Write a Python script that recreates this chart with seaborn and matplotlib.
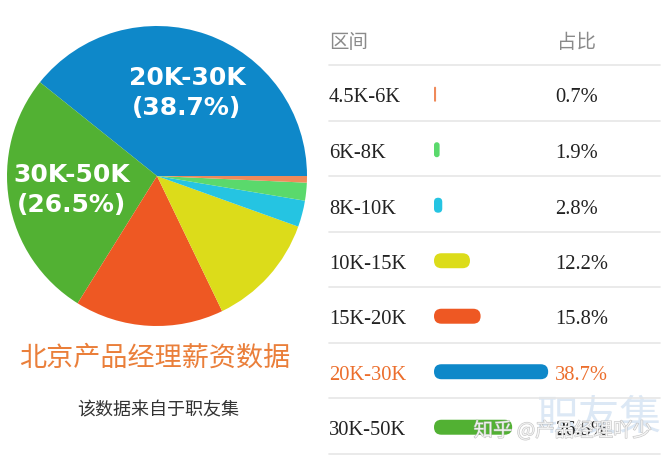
import matplotlib
matplotlib.use("Agg")
import matplotlib.pyplot as plt
import seaborn as sns
import pandas as pd
from matplotlib.patches import FancyBboxPatch
import matplotlib.patheffects as pe

# ---- data ----
ranges = ["4.5K-6K", "6K-8K", "8K-10K", "10K-15K", "15K-20K", "20K-30K", "30K-50K"]
shares = [0.7, 1.9, 2.8, 12.2, 15.8, 38.7, 26.5]
colors = ["#EF8A5A", "#5AD96C", "#25C4E2", "#DCDC1A", "#EE5823", "#0E88C9", "#52B133"]
pie_order = [5, 6, 4, 3, 2, 1, 0]  # counter-clockwise from 3 o'clock
pie_labelled = ["20K-30K", "30K-50K"]
header = ["区间", "占比"]
title = "北京产品经理薪资数据"
subtitle = "该数据来自于职友集"
highlight = "20K-30K"
watermark1 = "职友集"
watermark2 = "知乎 @产品经理吖少"

sns.set_theme(style="white")
plt.rcParams['font.family'] = ['Noto Sans CJK SC', 'DejaVu Sans']

W, H = 668, 464
fig = plt.figure(figsize=(6.68, 4.64), dpi=100)
fig.patch.set_facecolor('white')

# ---- pie ----
ax_pie = fig.add_axes([7 / W, 1 - 327 / H, 300 / W, 300 / H])
vals = [shares[i] for i in pie_order]
cols = [colors[i] for i in pie_order]
ax_pie.pie(vals, colors=cols, startangle=0, counterclock=True,
           wedgeprops=dict(linewidth=0))
ax_pie.set_xlim(-1, 1)
ax_pie.set_ylim(-1, 1)
ax_pie.set_aspect('equal')
ax_pie.axis('off')
label_pos = [(0.2, 0.56), (-0.567, -0.087)]
for name, (x, y) in zip(pie_labelled, label_pos):
    i = ranges.index(name)
    ax_pie.text(x, y, f"{name}\n({shares[i]}%)", ha='center', va='center',
                color='white', fontsize=18, fontweight='bold',
                family='DejaVu Sans', linespacing=1.35)

fig.text(155 / W, 1 - 358 / H, title, ha='center', va='center',
         color='#EA7F3A', fontsize=19.5)
fig.text(158 / W, 1 - 410 / H, subtitle, ha='center', va='center',
         color='#333333', fontsize=13)

# ---- table with bars ----
x0px, sx, sy, row0 = 434, 2.95, 55.5, 98
ax = fig.add_axes([310 / W, 0, 358 / W, 1])
df = pd.DataFrame({"range": ranges, "share": shares})
sns.barplot(data=df, y="range", x="share", hue="range", palette=colors,
            order=ranges, hue_order=ranges, orient='h', width=0.27,
            legend=False, ax=ax, saturation=1)
ax.set_xlim((310 - x0px) / sx, (668 - x0px) / sx)
ax.set_ylim((464 - row0) / sy, (0 - row0) / sy)
ax.axis('off')

a = sx / sy
for p in list(ax.patches):
    x, y, w, h = p.get_x(), p.get_y(), p.get_width(), p.get_height()
    rpx = min(w * sx, h * sy) / 2
    fb = FancyBboxPatch((x, y - 0.05), w, h,
                        boxstyle=f"round,pad=0,rounding_size={rpx / sx}",
                        mutation_aspect=a, facecolor=p.get_facecolor(),
                        edgecolor='none', zorder=2)
    p.remove()
    ax.add_patch(fb)

xmin_f, xmax_f = (329 - 310) / 358, (660 - 310) / 358
for i in range(-1, len(ranges)):
    ax.axhline(i + 0.43, xmin=xmin_f, xmax=xmax_f, color='#E6E6E6', lw=1.2)

lab_x = (329 - x0px) / sx
val_x = (555 - x0px) / sx
ax.text(lab_x, -1, header[0], color='#8A8A8A', fontsize=14, va='center')
ax.text((557 - x0px) / sx, -1, header[1], color='#8A8A8A', fontsize=14, va='center')
for i, (r, s) in enumerate(zip(ranges, shares)):
    c = '#EC6E2C' if r == highlight else '#222222'
    ax.text(lab_x, i, r, family='Liberation Serif', fontsize=14.8, color=c,
            va='center', zorder=3)
    ax.text(val_x, i, f"{s}%", family='Liberation Serif', fontsize=14.8, color=c,
            va='center', zorder=3)

# watermarks
ax.text((599 - x0px) / sx, (418 - row0) / sy, watermark1, ha='center', va='center',
        color='#DCE8F5', fontsize=30, zorder=0)
ax.text((563 - x0px) / sx, (432 - row0) / sy, watermark2, ha='center', va='center',
        color='white', fontsize=14, zorder=10, alpha=0.75,
        path_effects=[pe.withStroke(linewidth=0.8, foreground='#B0B0B0')])

fig.savefig("out.png", dpi=100, facecolor='white')
